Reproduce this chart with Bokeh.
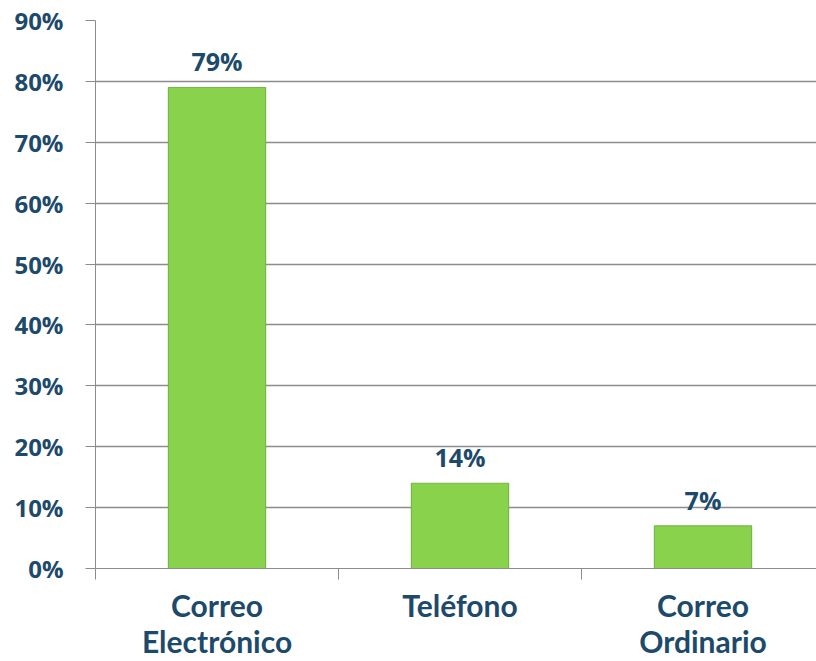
from bokeh.plotting import figure
from bokeh.models import ColumnDataSource, Range1d, FixedTicker
from bokeh.embed import file_html
from bokeh.resources import INLINE
from bokeh.core.properties import value

categories = ["Correo\nElectrónico", "Teléfono", "Correo\nOrdinario"]
values = [79, 14, 7]
value_labels = ["79%", "14%", "7%"]
y_ticks = [0, 10, 20, 30, 40, 50, 60, 70, 80, 90]
y_tick_labels = ["0%", "10%", "20%", "30%", "40%", "50%", "60%", "70%", "80%", "90%"]

FONT = "Open Sans"
CAT_FONT = "Lato"
TXT = "#1d4a6b"
GRID = "#8c8c8c"

xpos = [i + 0.5 for i in range(len(categories))]
src = ColumnDataSource(dict(x=xpos, top=values, lab=value_labels))

p = figure(width=816, height=661, output_backend="svg", toolbar_location=None,
           x_range=Range1d(0, 721 / 243), y_range=Range1d(0, 90))
p.min_border_left = 95
p.min_border_right = 0
p.min_border_top = 20
p.min_border_bottom = 92
p.outline_line_color = None
p.background_fill_color = "white"
p.border_fill_color = "white"

p.vbar(x="x", top="top", bottom=0, width=0.4, source=src,
       fill_color="#89d24b", line_color="#78b54a", line_width=1.2)

p.text(x="x", y="top", text="lab", source=src, y_offset=-9,
       text_align="center", text_baseline="bottom",
       text_font=value(FONT), text_font_style="bold",
       text_font_size="25px", text_color=TXT)

# x axis
p.xaxis.ticker = FixedTicker(ticks=xpos, minor_ticks=[0, 1, 2, 3])
p.xaxis.major_label_overrides = {x: c for x, c in zip(xpos, categories)}
p.xaxis.major_tick_out = 0
p.xaxis.major_tick_in = 0
p.xaxis.minor_tick_out = 11
p.xaxis.minor_tick_in = 0
p.xaxis.minor_tick_line_color = GRID
p.xaxis.axis_line_color = GRID
p.xaxis.major_label_standoff = 7
p.xaxis.major_label_text_font = CAT_FONT
p.xaxis.major_label_text_font_style = "bold"
p.xaxis.major_label_text_font_size = "30px"
p.xaxis.major_label_text_color = TXT
p.xaxis.major_label_text_line_height = 1.0

# y axis
p.yaxis.ticker = FixedTicker(ticks=y_ticks, minor_ticks=[])
p.yaxis.major_label_overrides = {t: l for t, l in zip(y_ticks, y_tick_labels)}
p.yaxis.major_tick_out = 10
p.yaxis.major_tick_in = 0
p.yaxis.major_tick_line_color = GRID
p.yaxis.axis_line_color = GRID
p.yaxis.major_label_standoff = 22
p.yaxis.major_label_text_font = FONT
p.yaxis.major_label_text_font_style = "bold"
p.yaxis.major_label_text_font_size = "24px"
p.yaxis.major_label_text_color = TXT

p.xgrid.grid_line_color = None
p.ygrid.ticker = FixedTicker(ticks=y_ticks)
p.ygrid.grid_line_color = GRID
p.ygrid.grid_line_width = 1.3

open("out.html", "w").write(file_html(p, INLINE))
